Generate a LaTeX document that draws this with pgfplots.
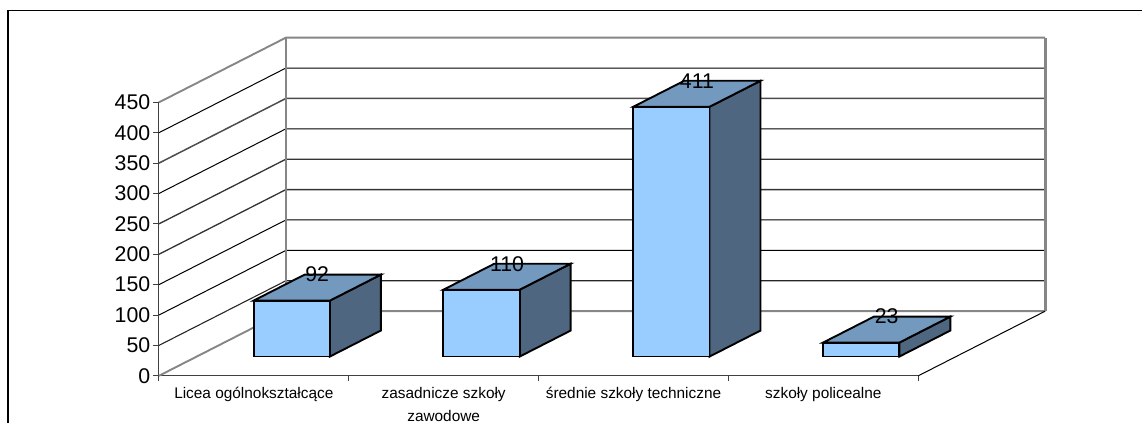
\documentclass[border=0pt]{standalone}
\usepackage{fontspec}
\setmainfont{Liberation Sans}
\usepackage{pgfplots}
\pgfplotsset{compat=1.18}
\definecolor{barfront}{HTML}{99CCFF}
\definecolor{bartop}{HTML}{7399BF}
\definecolor{barside}{HTML}{4F6680}
\definecolor{wallgray}{HTML}{868686}
% depth of the walls and of the bars, in axis units
\def\wdx{0.6687}\def\wdy{106.4}
\def\bdx{0.2685}\def\bdy{42.76}
\def\bshift{0.1996}\def\bhalf{0.2009}\def\bbase{31.7}
\newcommand{\wallline}[3]{%
  \addplot[#2,line width=#3,forget plot] coordinates {(0,#1) (\wdx,#1+\wdy) (4+\wdx,#1+\wdy)};
}
\newcommand{\threedbar}[2]{%
  \pgfmathsetmacro{\xa}{#1+\bshift-\bhalf}
  \pgfmathsetmacro{\xb}{#1+\bshift+\bhalf}
  \pgfmathsetmacro{\xc}{\xa+\bdx}
  \pgfmathsetmacro{\xd}{\xb+\bdx}
  \pgfmathsetmacro{\ya}{\bbase}
  \pgfmathsetmacro{\yb}{\bbase+#2}
  \pgfmathsetmacro{\yc}{\ya+\bdy}
  \pgfmathsetmacro{\yd}{\yb+\bdy}
  \addplot[draw=black,line width=1.9pt,fill=barside,line join=miter,forget plot] coordinates {(\xb,\ya) (\xd,\yc) (\xd,\yd) (\xb,\yb)} --cycle;
  \addplot[draw=black,line width=1.9pt,fill=bartop,line join=miter,forget plot] coordinates {(\xa,\yb) (\xb,\yb) (\xd,\yd) (\xc,\yd)} --cycle;
  \addplot[draw=black,line width=1.9pt,fill=barfront,line join=miter,forget plot] coordinates {(\xa,\ya) (\xb,\ya) (\xb,\yb) (\xa,\yb)} --cycle;
  \pgfmathsetmacro{\xl}{#1+\bshift+\bdx/2+0.0}
  \edef\temp{\noexpand\node[font=\noexpand\fontsize{21.3}{24}\noexpand\selectfont,inner sep=0pt,anchor=center] at (axis cs:\xl,\yd) {#2};}
  \temp
}
\begin{document}
\begin{tikzpicture}
\begin{axis}[
  scale only axis,
  width=759.7pt,height=273.6pt,
  xmin=0,xmax=4,ymin=0,ymax=450,
  clip=false,
  axis x line*=bottom,
  axis y line*=left,
  axis line style={draw=black!75,line width=0.9pt,-},
  ytick={0,50,...,450},
  xtick={0.5,1.5,2.5,3.5},
  xticklabels={Licea ogólnokształcące,{zasadnicze szkoły\\[2pt]zawodowe},średnie szkoły techniczne,szkoły policealne},
  minor xtick={0,1,2,3,4},
  tick align=outside,
  major tick length=5.5pt,
  minor tick length=5.5pt,
  major x tick style={draw=none},
  minor x tick style={draw=black!75,line width=0.9pt},
  y tick style={draw=black!75,line width=0.9pt},
  tick label style={/pgf/number format/assume math mode=true,black},
  y tick label style={font=\fontsize{21.3}{24}\selectfont,inner sep=0pt,xshift=-3pt},
  x tick label style={font=\fontsize{15.4}{21}\selectfont,align=center,inner sep=0pt,anchor=north,yshift=-5.5pt},
]
% picture extent
\addplot[draw=none,forget plot] coordinates {(-0.8372,-77.3) (5.181,-77.3) (5.181,618.42) (-0.8372,618.42)};
% outer frame
\addplot[black,line width=1.1pt,forget plot] coordinates {(-0.795,-77.3) (-0.795,601.2) (5.181,601.2)};
% walls: gridlines
\wallline{50}{black!85}{1.1pt}
\wallline{100}{black}{1pt}
\wallline{150}{black}{1pt}
\wallline{200}{black!80}{1.3pt}
\wallline{250}{black!80}{1.3pt}
\wallline{300}{black}{1pt}
\wallline{350}{black!70}{1.5pt}
\wallline{400}{black}{1pt}
\wallline{0}{wallgray}{1.9pt}
\wallline{450}{wallgray}{1.9pt}
% back wall verticals
\addplot[wallgray,line width=2.6pt,forget plot] coordinates {(\wdx,\wdy) (\wdx,450+\wdy)};
\addplot[wallgray,line width=2.6pt,forget plot] coordinates {(4+\wdx,\wdy) (4+\wdx,450+\wdy)};
% right edge of the floor
\addplot[black,line width=1pt,forget plot] coordinates {(4,0) (4+\wdx,\wdy)};
% bars
\threedbar{0.5}{92}
\threedbar{1.5}{110}
\threedbar{2.5}{411}
\threedbar{3.5}{23}
\end{axis}
\end{tikzpicture}
\end{document}
